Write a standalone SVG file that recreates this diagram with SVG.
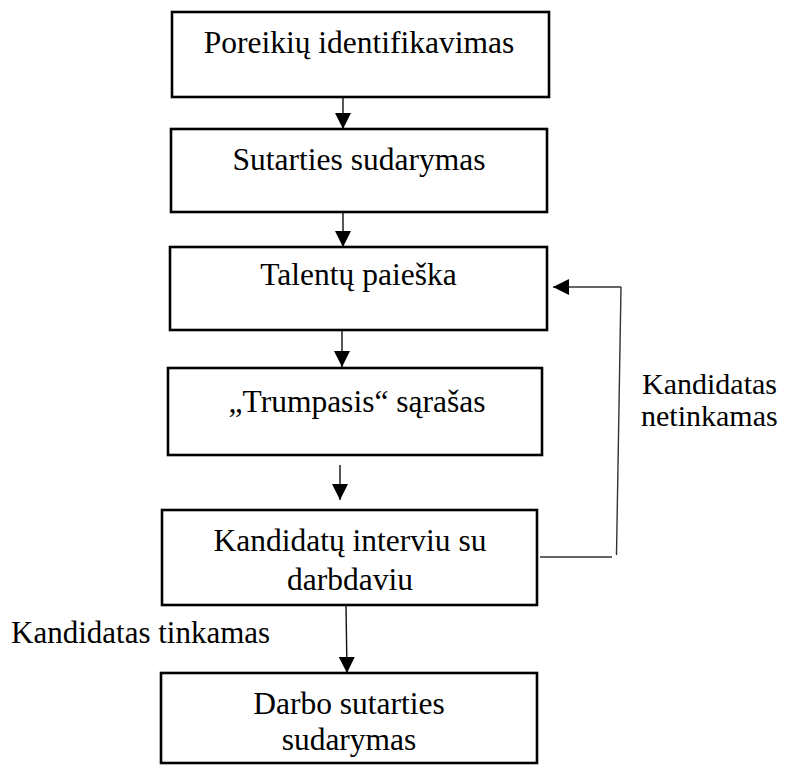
<svg xmlns="http://www.w3.org/2000/svg" width="785" height="765" viewBox="0 0 785 765">
  <style>
    .box { fill: #ffffff; stroke: #000000; stroke-width: 2.6; }
    .label { font-family: "Liberation Serif", "Times New Roman", serif; font-size: 31.5px; fill: #000000; text-anchor: middle; }
    .note { font-family: "Liberation Serif", "Times New Roman", serif; font-size: 31px; fill: #000000; }
    .side { font-family: "Liberation Serif", "Times New Roman", serif; font-size: 30px; fill: #000000; }
    .link { fill: none; stroke: #111111; stroke-width: 1.4; }
    .back { fill: none; stroke: #333333; stroke-width: 1.4; }
  </style>
  <defs>
    <marker id="arrow" viewBox="0 0 16 16" refX="16" refY="8" markerWidth="16" markerHeight="16" markerUnits="userSpaceOnUse" orient="auto">
      <path d="M0,0 L16,8 L0,16 Z" fill="#000000"/>
    </marker>
  </defs>

  <rect width="785" height="765" fill="#ffffff"/>

  <g id="connectors">
    <line class="link" x1="343" y1="97" x2="343" y2="129" marker-end="url(#arrow)"/>
    <line class="link" x1="343" y1="212" x2="343" y2="247" marker-end="url(#arrow)"/>
    <line class="link" x1="342" y1="330" x2="342" y2="367" marker-end="url(#arrow)"/>
    <line class="link" x1="340" y1="465" x2="340" y2="500" marker-end="url(#arrow)"/>
    <line class="link" x1="346" y1="605" x2="347" y2="673" marker-end="url(#arrow)"/>
    <!-- return path: interview back to talent search -->
    <line class="back" x1="540" y1="557" x2="612" y2="557"/>
    <line class="back" x1="616.5" y1="555" x2="621" y2="287"/>
    <line class="back" x1="621" y1="287" x2="553" y2="287" marker-end="url(#arrow)"/>
  </g>

  <g id="poreikiu">
    <rect class="box" x="172" y="12" width="377" height="85"/>
    <text class="label" x="359" y="53">Poreikių identifikavimas</text>
  </g>

  <g id="sutartis">
    <rect class="box" x="171" y="129" width="376" height="83"/>
    <text class="label" x="359" y="170">Sutarties sudarymas</text>
  </g>

  <g id="paieska">
    <rect class="box" x="170" y="247" width="377" height="83"/>
    <text class="label" x="358.5" y="285">Talentų paieška</text>
  </g>

  <g id="sarasas">
    <rect class="box" x="168" y="368" width="374" height="87"/>
    <text class="label" x="357" y="412">„Trumpasis“ sąrašas</text>
  </g>

  <g id="interviu">
    <rect class="box" x="162" y="510" width="375" height="95"/>
    <text class="label" x="350" y="551">Kandidatų interviu su</text>
    <text class="label" x="350" y="590">darbdaviu</text>
  </g>

  <g id="darbo-sutartis">
    <rect class="box" x="161" y="673" width="376" height="90"/>
    <text class="label" x="349" y="714">Darbo sutarties</text>
    <text class="label" x="349" y="750">sudarymas</text>
  </g>

  <g id="labels">
    <text class="side" x="642" y="394">Kandidatas</text>
    <text class="side" x="641" y="426">netinkamas</text>
    <text class="note" x="11" y="643">Kandidatas tinkamas</text>
  </g>
</svg>
